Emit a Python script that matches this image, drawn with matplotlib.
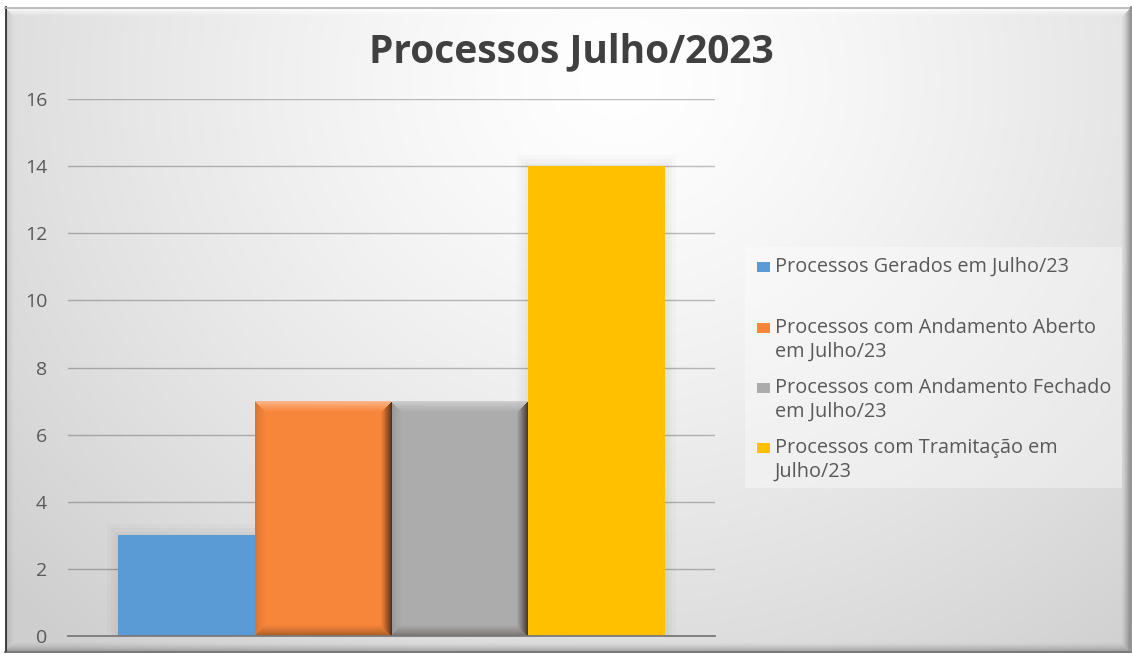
import numpy as np
import matplotlib
matplotlib.use('Agg')
import matplotlib.pyplot as plt
from matplotlib.patches import Rectangle
from matplotlib import patheffects as pe

# data
title = "Processos Julho/2023"
series_labels = [
    "Processos Gerados em Julho/23",
    "Processos com Andamento Aberto\nem Julho/23",
    "Processos com Andamento Fechado\nem Julho/23",
    "Processos com Tramitação em\nJulho/23",
]
values = [3, 7, 7, 14]
colors = ["#5B9BD5", "#F7863A", "#ACACAC", "#FFC000"]
beveled = [False, True, True, False]
y_ticks = [0, 2, 4, 6, 8, 10, 12, 14, 16]

W, H = 1132, 654
plt.rcParams['font.family'] = ['Open Sans', 'DejaVu Sans']


def bevel_rgba(nx, ny, band, alphas, tones, power=0.8):
    # alphas/tones ordered: top, right, bottom, left
    yy, xx = np.mgrid[0:ny, 0:nx].astype(float)
    d = np.stack([yy, nx - 1 - xx, ny - 1 - yy, xx])
    side = d.argmin(axis=0)
    dist = d.min(axis=0)
    t = np.clip(1 - dist / band, 0, 1) ** power
    img = np.zeros((ny, nx, 4))
    for k in range(4):
        m = side == k
        img[m, :3] = tones[k]
        img[m, 3] = alphas[k] * t[m]
    return img


fig = plt.figure(figsize=(W / 100, H / 100), dpi=100)
fig.patch.set_facecolor('white')

# background panel with radial gradient and bevelled frame
bg = fig.add_axes([0, 0, 1, 1], zorder=0)
gx, gy = np.meshgrid(np.arange(6, 1130), np.arange(8, 651))
r = np.hypot(gx - 620, (gy - 80) * 1.1)
v = 1 - 0.19 * np.clip(r / 830, 0, 1) ** 1.3
bg.imshow(np.dstack([v, v, v]), extent=(6, 1130, 651, 8), aspect='auto',
          interpolation='nearest')
frame = bevel_rgba(1124, 643, 9, [0.85, 0.3, 0.22, 0.1],
                   [(1, 1, 1), (0, 0, 0), (0, 0, 0), (0, 0, 0)], power=1.5)
bg.imshow(frame, extent=(6, 1130, 651, 8), aspect='auto', interpolation='nearest')
bg.plot([5.5, 5.5], [7, 652], color='#202020', lw=1.2)
bg.plot([5, 1131], [7.5, 7.5], color='#b0b0b0', lw=1.2)
bg.plot([5, 1131], [651.5, 651.5], color='#606060', lw=1.2)
bg.plot([1130.5, 1130.5], [7, 652], color='#808080', lw=1.2)
bg.set_xlim(0, W)
bg.set_ylim(H, 0)
bg.axis('off')

# legend panel
bg.add_patch(Rectangle((745, 247), 377, 241, facecolor='white', alpha=0.35,
                       edgecolor='none'))

# main axes
ax = fig.add_axes([68 / W, 1 - 636 / H, (715 - 68) / W, (636 - 99) / H], zorder=1)
ax.patch.set_alpha(0)
x = np.arange(len(values))
bars = ax.bar(x, values, width=1.0, color=colors, zorder=2)
ax.set_xlim(-0.866, len(values) - 1 + 0.866)
ax.set_ylim(0, 16)

glow = [pe.Stroke(linewidth=16, foreground='k', alpha=0.015),
        pe.Stroke(linewidth=10, foreground='k', alpha=0.02),
        pe.Stroke(linewidth=5, foreground='k', alpha=0.025),
        pe.Normal()]
for b, bev in zip(bars, beveled):
    if not bev:
        b.set_path_effects(glow)

for b, bev in zip(bars, beveled):
    if not bev:
        continue
    x0, h, w = b.get_x(), b.get_height(), b.get_width()
    p0 = ax.transData.transform((x0, 0))
    p1 = ax.transData.transform((x0 + w, h))
    nx, ny = int(round(p1[0] - p0[0])), int(round(p1[1] - p0[1]))
    img = bevel_rgba(nx, ny, 11, [0.4, 0.7, 0.35, 0.12],
                     [(1, 1, 1), (0.12, 0.06, 0.02), (0.12, 0.06, 0.02), (0, 0, 0)],
                     power=1.2)
    im = ax.imshow(img, extent=(x0, x0 + w, 0, h), aspect='auto',
                   interpolation='nearest', zorder=3)
    im.set_clip_path(b)
ax.set_xlim(-0.866, len(values) - 1 + 0.866)
ax.set_ylim(0, 16)

ax.set_yticks(y_ticks)
ax.set_xticks([])
ax.tick_params(axis='y', length=0, pad=15, labelsize=14, labelcolor='#595959')
ax.yaxis.grid(True, color='k', alpha=0.25, lw=1)
ax.set_axisbelow(True)
for s in ['top', 'right', 'left']:
    ax.spines[s].set_visible(False)
ax.spines['bottom'].set_color('#7a7a7a')
ax.spines['bottom'].set_linewidth(1.3)
ax.spines['bottom'].set_zorder(4)

# title
fig.text(571 / W, 1 - 62 / H, title, ha='center', va='baseline', fontsize=28,
         fontweight='bold', color='#404040')

# legend (markers aligned to first text line, like the original)
baselines = [272, 333, 393, 453]
line_gap = 24
for lab, col, yb in zip(series_labels, colors, baselines):
    fig.patches.append(Rectangle((757 / W, 1 - yb / H), 13 / W, 10 / H,
                                 transform=fig.transFigure, facecolor=col,
                                 edgecolor='none', zorder=5))
    for i, line in enumerate(lab.split('\n')):
        fig.text(775 / W, 1 - (yb + i * line_gap) / H, line, ha='left',
                 va='baseline', fontsize=14.3, color='#595959')

fig.savefig('out.png', dpi=100, facecolor=fig.get_facecolor())
